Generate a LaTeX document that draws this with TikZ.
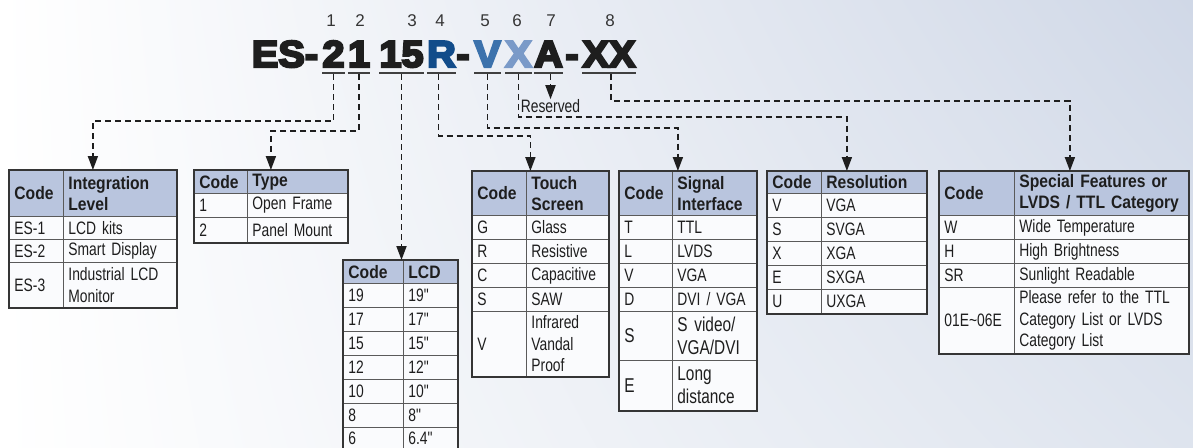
\documentclass[tikz,border=0pt]{standalone}
\usepackage{fontspec}
\setmainfont{Liberation Sans}[FakeStretch=0.77,BoldFeatures={FakeStretch=0.87}]
\newfontfamily\codefont{Liberation Sans Bold}[FakeStretch=1.06,FakeBold=6]
\newfontfamily\digitfont{Liberation Sans}
\usepackage{xcolor}
\usetikzlibrary{arrows.meta,matrix,positioning,shadings}

\definecolor{bgblue}{RGB}{208,216,231}
\definecolor{bgmid}{RGB}{222,228,238}
\definecolor{hdrblue}{RGB}{185,197,222}
\definecolor{cellfill}{RGB}{250,251,253}
\definecolor{tblline}{RGB}{90,90,90}
\definecolor{codeR}{RGB}{18,76,138}
\definecolor{codeV}{RGB}{60,114,172}
\definecolor{codeX}{RGB}{122,154,200}
\definecolor{ink}{RGB}{30,30,30}

\newcommand\tabfont{\fontsize{18}{21.5}\selectfont}
\newcommand\bigtab{\fontsize{20}{23}\selectfont}
\newcommand\inch{\textquotedbl}

\begin{document}
\begin{tikzpicture}[
        x=1pt, y=-1pt,
        link/.style={-{Triangle[length=14pt,width=10pt]}, dash pattern=on 6pt off 4pt, line width=1.8pt, ink},
        uline/.style={line width=1.8pt, ink!85},
        codech/.style={inner sep=0pt, anchor=base, font=\codefont\fontsize{37.5}{40}\selectfont, text=ink},
        codenum/.style={inner sep=0pt, anchor=base, font=\digitfont\fontsize{17}{18}\selectfont, text=ink!90},
        rsvlabel/.style={inner sep=0pt, font=\tabfont, text=ink},
        tbl/.style={matrix of nodes, inner sep=0pt, outer sep=0pt, column sep=-0.8pt, row sep=-0.8pt, anchor=north west,
            nodes={draw=tblline, line width=0.8pt, fill=cellfill, outer sep=0pt, inner xsep=5pt, inner ysep=0pt,
                align=left, anchor=center, font=\tabfont, text=ink},
            row 1/.style={nodes={fill=hdrblue, font=\tabfont\bfseries}}},
        tblframe/.style={draw=ink!90, line width=1.4pt},
    ]
    \useasboundingbox (0,0) rectangle (1193,447);
    \clip (0,0) rectangle (1193,447);

    % Background wash
    \shade[upper left=white, upper right=bgblue, lower left=white, lower right=bgmid] (0,0) rectangle (1193,447);

    % Model code
    \node[codech] (c0) at (285,67) {ES-};
    \node[codech] (c1) at (333.5,67) {2};
    \node[codech] (c2) at (359,67) {1};
    \node[codech] (c3) at (401.5,67) {15};
    \node[codech, text=codeR] (c4) at (441.5,67) {R};
    \node[codech] (d1) at (463,67) {-};
    \node[codech, text=codeV] (c5) at (487.5,67) {V};
    \node[codech, text=codeX] (c6) at (518.5,67) {X};
    \node[codech] (c7) at (548.5,67) {A};
    \node[codech] (d2) at (572,67) {-};
    \node[codech] (c8) at (609,67) {XX};
    \foreach \c in {c1,c2,c3,c4,c5,c6,c7,c8} {
        \draw[uline] ([yshift=-6pt]\c.base west) -- ([yshift=-6pt]\c.base east);
    }

    % Position numbers
    \node[codenum] (n1) at (331,27) {1};
    \node[codenum] (n2) at (360,27) {2};
    \node[codenum] (n3) at (412,27) {3};
    \node[codenum] (n4) at (440,27) {4};
    \node[codenum] (n5) at (485,27) {5};
    \node[codenum] (n6) at (517,27) {6};
    \node[codenum] (n7) at (551,27) {7};
    \node[codenum] (n8) at (610,27) {8};

    % 1 - Integration level
    \matrix (tInt) [tbl,
        column 1/.style={nodes={text width=44pt}}, column 2/.style={nodes={text width=103pt}},
        row 1/.append style={nodes={minimum height=46pt}},
        row 2/.style={nodes={minimum height=23pt}}, row 3/.style={nodes={minimum height=23pt}},
        row 4/.style={nodes={minimum height=45pt}}] at (9,170) {
        Code & {Integration\\Level} \\
        ES-1 & LCD kits \\
        ES-2 & Smart Display \\
        ES-3 & {Industrial LCD\\Monitor} \\
    };
    \draw[tblframe] (tInt.north west) rectangle (tInt.south east);

    % 2 - Type
    \matrix (tType) [tbl,
        column 1/.style={nodes={text width=43pt}}, column 2/.style={nodes={text width=90pt}},
        row 1/.append style={nodes={minimum height=23pt}},
        row 2/.style={nodes={minimum height=24pt}}, row 3/.style={nodes={minimum height=25pt}}] at (194,170) {
        Code & Type \\
        1 & Open Frame \\
        2 & Panel Mount \\
    };
    \draw[tblframe] (tType.north west) rectangle (tType.south east);

    % 3 - LCD size (runs off the bottom edge)
    \matrix (tLcd) [tbl,
        column 1/.style={nodes={text width=50pt}}, column 2/.style={nodes={text width=44pt}},
        row 1/.append style={nodes={minimum height=23pt}},
        nodes={minimum height=24pt},
        row 8/.style={nodes={minimum height=22pt, text height=13pt, text depth=0pt}}] at (343,260) {
        Code & LCD \\
        19 & 19\inch \\
        17 & 17\inch \\
        15 & 15\inch \\
        12 & 12\inch \\
        10 & 10\inch \\
        8 & 8\inch \\
        6 & 6.4\inch \\
    };
    \draw[tblframe] (tLcd.north west) rectangle (tLcd.south east);

    % 4 - Touch screen
    \matrix (tTouch) [tbl,
        column 1/.style={nodes={text width=44pt}}, column 2/.style={nodes={text width=72pt}},
        row 1/.append style={nodes={minimum height=44pt}},
        nodes={minimum height=24pt},
        row 6/.style={nodes={minimum height=65pt}}] at (472,171) {
        Code & {Touch\\Screen} \\
        G & Glass \\
        R & Resistive \\
        C & Capacitive \\
        S & SAW \\
        V & {Infrared\\Vandal\\Proof} \\
    };
    \draw[tblframe] (tTouch.north west) rectangle (tTouch.south east);

    % 5 - Signal interface
    \matrix (tSig) [tbl,
        column 1/.style={nodes={text width=43pt}}, column 2/.style={nodes={text width=74pt}},
        row 1/.append style={nodes={minimum height=44pt}},
        nodes={minimum height=24pt},
        row 6/.style={nodes={minimum height=49pt, font=\bigtab}},
        row 7/.style={nodes={minimum height=50pt, font=\bigtab}}] at (619,171) {
        Code & {Signal\\Interface} \\
        T & TTL \\
        L & LVDS \\
        V & VGA \\
        D & DVI / VGA \\
        S & {S video/\\VGA/DVI} \\
        E & {Long\\distance} \\
    };
    \draw[tblframe] (tSig.north west) rectangle (tSig.south east);

    % 6 - Resolution
    \matrix (tRes) [tbl,
        column 1/.style={nodes={text width=44pt}}, column 2/.style={nodes={text width=95pt}},
        row 1/.append style={nodes={minimum height=22pt}},
        nodes={minimum height=24pt}] at (767,171) {
        Code & Resolution \\
        V & VGA \\
        S & SVGA \\
        X & XGA \\
        E & SXGA \\
        U & UXGA \\
    };
    \draw[tblframe] (tRes.north west) rectangle (tRes.south east);

    % 8 - Special features
    \matrix (tSpec) [tbl,
        column 1/.style={nodes={text width=65pt}}, column 2/.style={nodes={text width=164pt}},
        row 1/.append style={nodes={minimum height=44pt}},
        nodes={minimum height=24pt},
        row 5/.style={nodes={minimum height=66pt}}] at (939,171) {
        Code & {Special Features or\\LVDS / TTL Category} \\
        W & Wide Temperature \\
        H & High Brightness \\
        SR & Sunlight Readable \\
        01E\textasciitilde 06E & {Please refer to the TTL\\Category List or LVDS\\Category List} \\
    };
    \draw[tblframe] (tSpec.north west) rectangle (tSpec.south east);

    % 7 - Reserved
    \node[rsvlabel] (rsv) at (550.5,106) {Reserved};

    % Dashed leaders from code positions to tables
    \draw[link] ([yshift=-7pt]c1.base) -- ++(0,47) -| (tInt.north);
    \draw[link] ([yshift=-7pt]c2.base) -- ++(0,57) -| (tType.north);
    \draw[link] ([yshift=-7pt]c3.base) -- (c3.base |- tLcd.north);
    \draw[link] ([xshift=-3pt,yshift=-7pt]c4.base) -- ++(0,62) -| ([xshift=-10pt]tTouch.north);
    \draw[link] ([yshift=-7pt]c5.base) -- ++(0,54) -| ([xshift=-10pt]tSig.north);
    \draw[link] ([yshift=-7pt]c6.base) -- ++(0,43) -| (tRes.north);
    \draw[link] ([xshift=2pt,yshift=-7pt]c7.base) -- (rsv.north);
    \draw[link] ([xshift=2pt,yshift=-7pt]c8.base) -- ++(0,27) -| ([xshift=6pt]tSpec.north);

\end{tikzpicture}
\end{document}
